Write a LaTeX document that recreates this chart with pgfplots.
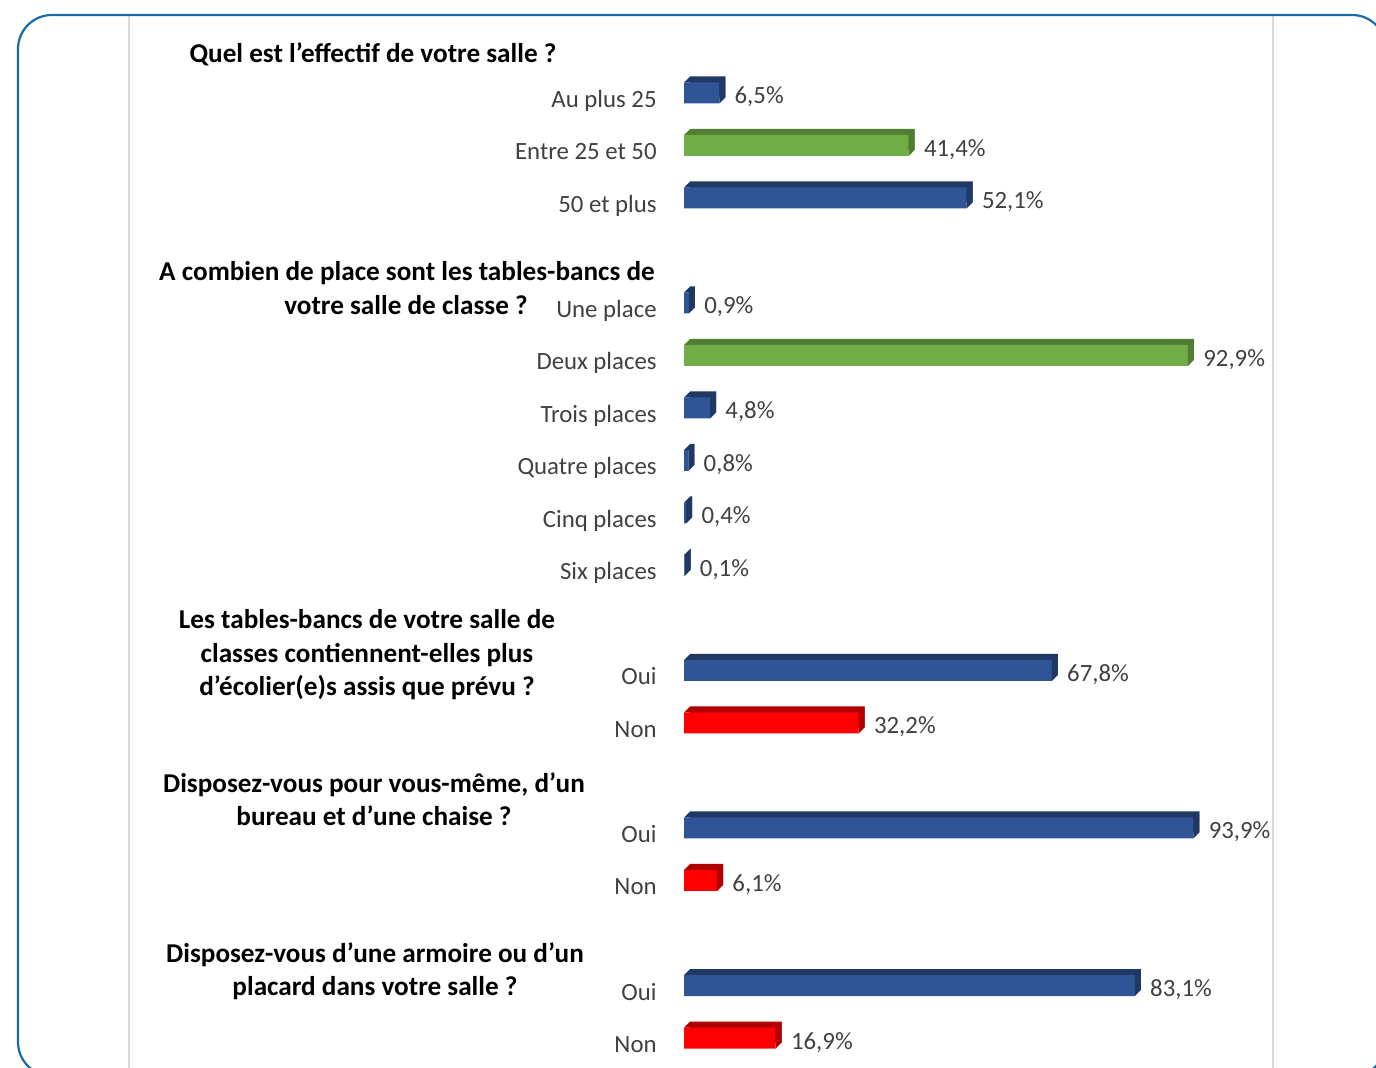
\documentclass[border=0pt]{standalone}
\usepackage{pgfplots}
\pgfplotsset{compat=1.18}
\usepackage{pgfplotstable}
\usepackage{fontspec}
\setmainfont{Carlito}
\definecolor{bfront}{HTML}{2F5597}
\definecolor{bdark}{HTML}{1F3864}
\definecolor{gfront}{HTML}{70AD47}
\definecolor{gdark}{HTML}{507E32}
\definecolor{rfront}{HTML}{FF0000}
\definecolor{rdark}{HTML}{B00000}
\definecolor{framec}{HTML}{1B6AA8}
\definecolor{txt}{HTML}{404040}
\definecolor{vline}{HTML}{D9D9D9}

% 3D side face of a bar (drawn at the bar end) and top-left corner of the top face
\pgfdeclareplotmark{barside}{%
  \pgfpathmoveto{\pgfpoint{0pt}{-5.25pt}}%
  \pgfpathlineto{\pgfpoint{0pt}{5.25pt}}%
  \pgfpathlineto{\pgfpoint{3pt}{8.25pt}}%
  \pgfpathlineto{\pgfpoint{3pt}{-2.25pt}}%
  \pgfpathclose\pgfusepathqfill}
\pgfdeclareplotmark{barcorner}{%
  \pgfpathmoveto{\pgfpoint{0pt}{5.25pt}}%
  \pgfpathlineto{\pgfpoint{3.05pt}{5.25pt}}%
  \pgfpathlineto{\pgfpoint{3.05pt}{8.25pt}}%
  \pgfpathclose\pgfusepathqfill}

\pgfplotstableread{
v y
6.5 0
52.1 2
0.9 4
4.8 6
0.8 7
0.4 8
0.1 9
67.8 11
93.9 14
83.1 17
}\bluedata
\pgfplotstableread{
v y
41.4 1
92.9 5
}\greendata
\pgfplotstableread{
v y
32.2 12
6.1 15
16.9 18
}\reddata

\newcommand{\lab}{\fontsize{12.4pt}{14pt}\selectfont}
\newcommand{\tit}{\fontsize{13.6pt}{16pt}\selectfont\bfseries}

\pgfplotsset{
  backbar/.style={xbar, bar width=10.5pt, bar shift=0pt, draw=none, fill=#1, xshift=3pt, yshift=3pt, forget plot},
  frontbar/.style={xbar, bar width=10.5pt, bar shift=0pt, draw=none, fill=#1, forget plot,
     point meta=x,
     nodes near coords={\pgfmathprintnumber[fixed,fixed zerofill,precision=1,use comma,assume math mode=true]{\pgfplotspointmeta}\%},
     every node near coord/.append style={anchor=base west, inner sep=0pt, xshift=7.5pt, yshift=-5.5pt, font=\lab, text=txt}},
  sidemark/.style={only marks, mark=barside, color=#1, forget plot},
  cornermark/.style={only marks, mark=barcorner, color=#1, forget plot},
}

\begin{document}
\begin{tikzpicture}
\useasboundingbox (0,0) rectangle (688pt,534pt);
\clip (0,0) rectangle (688pt,534pt);
% frame
\draw[vline, line width=0.8pt] (64.5pt,526.5pt) -- (64.5pt,-2pt);
\draw[vline, line width=0.8pt] (636.5pt,526.5pt) -- (636.5pt,-2pt);
\draw[framec, line width=1.1pt, rounded corners=17pt] (9pt,526.5pt) rectangle (693pt,-4pt);

% question titles
\node[font=\tit, anchor=base] at (186.5pt,502.5pt) {Quel est l’effectif de votre salle ?};
\node[font=\tit, anchor=base] at (203.5pt,393.5pt) {A combien de place sont les tables-bancs de};
\node[font=\tit, anchor=base] at (203pt,376.5pt) {votre salle de classe ?};
\node[font=\tit, anchor=base] at (183.5pt,219.5pt) {Les tables-bancs de votre salle de};
\node[font=\tit, anchor=base] at (183.5pt,202.5pt) {classes contiennent-elles plus};
\node[font=\tit, anchor=base] at (183.5pt,186pt) {d’écolier(e)s assis que prévu ?};
\node[font=\tit, anchor=base] at (187pt,137.5pt) {Disposez-vous pour vous-même, d’un};
\node[font=\tit, anchor=base] at (187pt,121pt) {bureau et d’une chaise ?};
\node[font=\tit, anchor=base] at (187.5pt,52.5pt) {Disposez-vous d’une armoire ou d’un};
\node[font=\tit, anchor=base] at (187.5pt,36pt) {placard dans votre salle ?};

\begin{axis}[
  at={(342pt,1.875pt)}, anchor=south west,
  scale only axis, width=271.25pt, height=498.75pt,
  xmin=0, xmax=100, ymin=-0.5, ymax=18.5, y dir=reverse,
  clip=false,
  axis line style={draw=none}, tick style={draw=none},
  xtick=\empty,
  ytick={0,1,2,4,5,6,7,8,9,11,12,14,15,17,18},
  yticklabels={Au plus 25,Entre 25 et 50,50 et plus,Une place,Deux places,Trois places,Quatre places,Cinq places,Six places,Oui,Non,Oui,Non,Oui,Non},
  yticklabel style={font=\lab, text=txt, anchor=base east, inner sep=0pt, xshift=-13.5pt, yshift=-7.25pt},
]
\addplot[backbar=bdark] table[x=v,y=y] {\bluedata};
\addplot[backbar=gdark] table[x=v,y=y] {\greendata};
\addplot[backbar=rdark] table[x=v,y=y] {\reddata};
\addplot[frontbar=bfront] table[x=v,y=y] {\bluedata};
\addplot[frontbar=gfront] table[x=v,y=y] {\greendata};
\addplot[frontbar=rfront] table[x=v,y=y] {\reddata};
\addplot[sidemark=bdark] table[x=v,y=y] {\bluedata};
\addplot[sidemark=gdark] table[x=v,y=y] {\greendata};
\addplot[sidemark=rdark] table[x=v,y=y] {\reddata};
\addplot[cornermark=bdark] table[x expr=0,y=y] {\bluedata};
\addplot[cornermark=gdark] table[x expr=0,y=y] {\greendata};
\addplot[cornermark=rdark] table[x expr=0,y=y] {\reddata};
\end{axis}
\end{tikzpicture}
\end{document}
